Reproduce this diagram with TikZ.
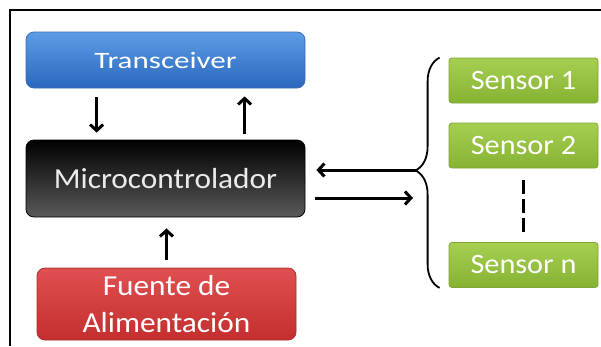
\documentclass[tikz,border=0pt]{standalone}
\usepackage{fontspec}
\setmainfont{Carlito}
\usetikzlibrary{arrows.meta,decorations.pathreplacing,calc}
\definecolor{bluetop}{HTML}{5C9DE6}
\definecolor{bluebot}{HTML}{2A67BD}
\definecolor{blueedge}{HTML}{3A6FB0}
\definecolor{redtop}{HTML}{E05050}
\definecolor{redbot}{HTML}{C42E2E}
\definecolor{rededge}{HTML}{A83030}
\definecolor{greentop}{HTML}{A6CF52}
\definecolor{greenbot}{HTML}{86B232}
\definecolor{greenedge}{HTML}{7EA535}
\definecolor{blacktop}{HTML}{000000}
\definecolor{blackbot}{HTML}{5A5A5A}
\tikzset{
  box/.style={rounded corners=8pt, inner sep=0pt, text=white},
  bluebox/.style={box, top color=bluetop, bottom color=bluebot, draw=blueedge, line width=0.8pt},
  blackbox/.style={box, top color=blacktop, bottom color=blackbot, draw=black, line width=0.8pt, text=white!92!black},
  redbox/.style={box, top color=redtop, bottom color=redbot, draw=rededge, line width=0.8pt, align=center},
  sensorbox/.style={rounded corners=3pt, inner sep=0pt, text=white, top color=greentop, bottom color=greenbot, draw=greenedge, line width=0.8pt, minimum width=149pt, minimum height=45pt, font=\fontsize{28}{30}\selectfont},
  arr/.style={line width=3pt, -{Straight Barb[length=6pt,width=13pt]}},
}
\newcommand{\sx}[1]{\scalebox{1.08}[1]{#1}}
\begin{document}
\begin{tikzpicture}[x={(1pt,0)}, y={(0,-1pt)}]
\useasboundingbox (0,0) rectangle (601,346);
% frame (top and left edges visible)
\draw[line width=2pt] (10,346) -- (10,10) -- (601,10);

\node[bluebox, minimum width=279pt, minimum height=56pt, font=\fontsize{23.5}{26}\selectfont] (trans) at (165.5,60) {\scalebox{1.32}[1]{Transceiver}};
\node[blackbox, minimum width=279pt, minimum height=77pt, font=\fontsize{29}{32}\selectfont] (micro) at (165.5,178.5) {\sx{Microcontrolador}};
\node[redbox, minimum width=259pt, minimum height=72pt, font=\fontsize{29}{37}\selectfont] (fuente) at (166.5,304) {\sx{Fuente de}\\\sx{Alimentación}};

\node[sensorbox] (s1) at (523.5,80.5) {\sx{Sensor 1}};
\node[sensorbox] (s2) at (523.5,145.5) {\sx{Sensor 2}};
\node[sensorbox] (sn) at (523.5,265) {\sx{Sensor n}};

% vertical arrows
\draw[arr, shorten <=9pt, shorten >=7pt] ([xshift=71pt]trans.south west) -- ([xshift=71pt]micro.north west);
\draw[arr, shorten <=6pt, shorten >=8pt] ([xshift=219pt]micro.north west) -- ([xshift=219pt]trans.south west);
\draw[arr, shorten <=8pt, shorten >=11pt] (fuente.north) -- (fuente.north |- micro.south);

% brace
\coordinate (bb) at ($(sn.south west)+(-9,0)$);
\coordinate (bt) at ($(s1.north west)+(-9,0)$);
\draw[line width=1.8pt, decorate, decoration={brace, amplitude=24pt, aspect=0.51}] (bb) -- (bt);
\coordinate (tip) at (416,176);

% horizontal arrows
\draw[arr, shorten >=11pt] ([yshift=6pt]tip) -- ([yshift=6pt]tip -| micro.east);
\draw[arr, shorten <=10pt, shorten >=3pt] ([yshift=-22pt]tip -| micro.east) -- ([yshift=-22pt]tip);

% dashed continuation
\draw[line width=2.8pt, dash pattern=on 14pt off 5pt, shorten <=12pt, shorten >=10pt] (s2.south) -- (sn.north);
\end{tikzpicture}
\end{document}
